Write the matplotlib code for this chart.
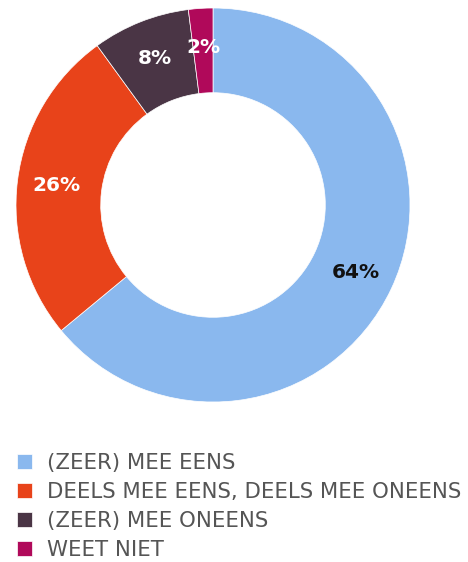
import matplotlib.pyplot as plt

labels = ["(ZEER) MEE EENS", "DEELS MEE EENS, DEELS MEE ONEENS",
          "(ZEER) MEE ONEENS", "WEET NIET"]
values = [64, 26, 8, 2]
colors = ["#8AB8EE", "#E8431A", "#4A3545", "#B0095A"]
label_colors = ["#111111", "white", "white", "white"]

W, H = 468, 562
fig = plt.figure(figsize=(W / 100, H / 100), dpi=100)

# donut: centre (213, 205) px, radius 197 px
ax = fig.add_axes([16 / W, (H - 402) / H, 394 / W, 394 / H])
wedges, texts, autotexts = ax.pie(
    values, colors=colors, startangle=90, counterclock=False,
    autopct="%d%%", pctdistance=0.80,
    wedgeprops=dict(width=0.43, edgecolor="white", linewidth=0.5),
    textprops=dict(fontfamily="DejaVu Sans", fontweight="bold", fontsize=14.5))
for t, c in zip(autotexts, label_colors):
    t.set_color(c)
ax.set_xlim(-1, 1)
ax.set_ylim(-1, 1)
ax.set_aspect("equal")

leg = fig.legend(wedges, labels, loc="upper left",
                 bbox_to_anchor=(17 / W, (H - 453) / H),
                 frameon=False, borderpad=0, borderaxespad=0,
                 handlelength=0.7, handleheight=0.7,
                 handletextpad=0.72, labelspacing=0.42,
                 prop=dict(family="DejaVu Sans", size=15.3))
for t in leg.get_texts():
    t.set_color("#555555")

fig.savefig("out.png", dpi=100)
